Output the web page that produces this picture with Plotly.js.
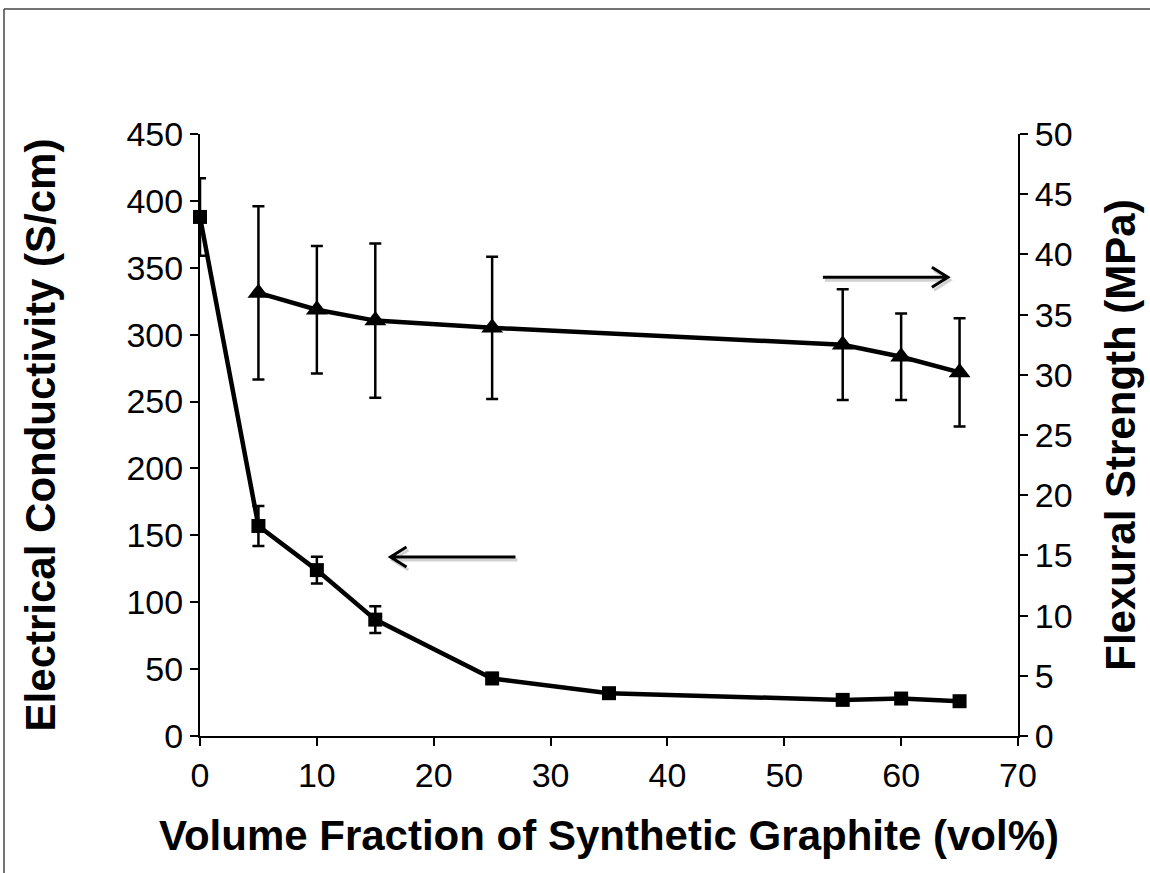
<!DOCTYPE html>
<html>
<head>
<meta charset="utf-8">
<script src="https://cdn.plot.ly/plotly-3.0.1.min.js"></script>
<style>html,body{margin:0;padding:0;background:#fff;}#chart{width:1150px;height:873px;}</style>
</head>
<body>
<div id="chart"></div>
<script>
// Volume fraction of synthetic graphite (vol%)
const condX = [0, 5, 10, 15, 25, 35, 55, 60, 65];
// Electrical conductivity (S/cm)
const condY = [388, 157, 124, 87, 43, 32, 27, 28, 26];
const condErr = [29, 15, 10, 10, 4, 3, 0, 0, 0];

const flexX = [5, 10, 15, 25, 55, 60, 65];
// Flexural strength (MPa)
const flexY = [36.8, 35.4, 34.5, 33.9, 32.5, 31.5, 30.2];
const flexErr = [7.2, 5.3, 6.4, 5.9, 4.6, 3.6, 4.5];

const xTicks = [0, 10, 20, 30, 40, 50, 60, 70];
const yTicks = [0, 50, 100, 150, 200, 250, 300, 350, 400, 450];
const y2Ticks = [0, 5, 10, 15, 20, 25, 30, 35, 40, 45, 50];

const FONT = 'Liberation Sans, Arial, sans-serif';
const tickFont = {family: FONT, size: 34, color: '#000'};
const titleFont = {family: FONT, size: 42, color: '#000', weight: 'bold'};

const traces = [
  {
    x: condX, y: condY, type: 'scatter', mode: 'lines+markers',
    line: {color: '#000', width: 4.5},
    marker: {symbol: 'square', size: 14, color: '#000'},
    error_y: {type: 'data', array: condErr, visible: true, color: '#000', thickness: 2.5, width: 6},
    xaxis: 'x', yaxis: 'y', showlegend: false, cliponaxis: false
  },
  {
    x: flexX, y: flexY, type: 'scatter', mode: 'lines+markers',
    line: {color: '#000', width: 4.5},
    marker: {symbol: 'triangle-up', size: 19, color: '#000'},
    error_y: {type: 'data', array: flexErr, visible: true, color: '#000', thickness: 2.5, width: 6},
    xaxis: 'x', yaxis: 'y2', showlegend: false, cliponaxis: false
  }
];

// arrow heads (data coordinates) and arrow length in pixels
const leftArrowHead = {x: 16.3, y: 133.8};   // on left axis scale, points left
const rightArrowHead = {x: 64.0, y: 38.1};   // on right axis scale, points right
const arrowLen = 125;

function arrowShapes(head, yref, dir) {
  const L = arrowLen * dir;
  const h = 16 * dir;
  const mk = (path, color, dx, dy) => ({
    type: 'path', xref: 'x', yref: yref,
    xsizemode: 'pixel', ysizemode: 'pixel',
    xanchor: head.x, yanchor: head.y,
    path: path(dx, dy),
    line: {color: color, width: 3}
  });
  const p = (dx, dy) => `M ${-L + dx},${dy} L ${dx},${dy} M ${-h + dx},${10 + dy} L ${dx},${dy} L ${-h + dx},${-10 + dy}`;
  return [mk(p, 'rgba(0,0,0,0.18)', 2, -3), mk(p, '#000', 0, 0)];
}

const shapes = [
  // figure frame (top and left edges)
  {type: 'line', xref: 'paper', yref: 'paper', x0: -0.2396, x1: 1.2, y0: 1.2076, y1: 1.2076,
   line: {color: '#444', width: 1.5}},
  {type: 'line', xref: 'paper', yref: 'paper', x0: -0.2396, x1: -0.2396, y0: -0.25, y1: 1.2076,
   line: {color: '#444', width: 1.5}}
].concat(arrowShapes(leftArrowHead, 'y', -1), arrowShapes(rightArrowHead, 'y2', 1));

const layout = {
  width: 1150, height: 873,
  margin: {l: 200, r: 132, t: 134, b: 137, pad: 0},
  paper_bgcolor: '#fff', plot_bgcolor: '#fff',
  showlegend: false,
  xaxis: {
    range: [0, 70], tickvals: xTicks, ticktext: xTicks.map(String),
    showgrid: false, zeroline: false, showline: true, linecolor: '#000', linewidth: 2,
    ticks: 'outside', ticklen: 8, tickwidth: 2, tickcolor: '#000',
    tickfont: tickFont,
    title: {text: 'Volume Fraction of Synthetic Graphite (vol%)', font: titleFont, standoff: 28}
  },
  yaxis: {
    range: [0, 450], tickvals: yTicks, ticktext: yTicks.map(String),
    showgrid: false, zeroline: false, showline: true, linecolor: '#000', linewidth: 2,
    ticks: 'outside', ticklen: 8, tickwidth: 2, tickcolor: '#000',
    tickfont: tickFont,
    title: {text: 'Electrical Conductivity (S/cm)', font: titleFont, standoff: 58}
  },
  yaxis2: {
    range: [0, 50], tickvals: y2Ticks, ticktext: y2Ticks.map(String),
    overlaying: 'y', side: 'right',
    showgrid: false, zeroline: false, showline: true, linecolor: '#000', linewidth: 2,
    ticks: 'outside', ticklen: 8, tickwidth: 2, tickcolor: '#000',
    tickfont: tickFont,
    title: {text: 'Flexural Strength (MPa)', font: titleFont, standoff: 34}
  },
  shapes: shapes
};

Plotly.newPlot('chart', traces, layout, {displayModeBar: false, staticPlot: true});
</script>
</body>
</html>
